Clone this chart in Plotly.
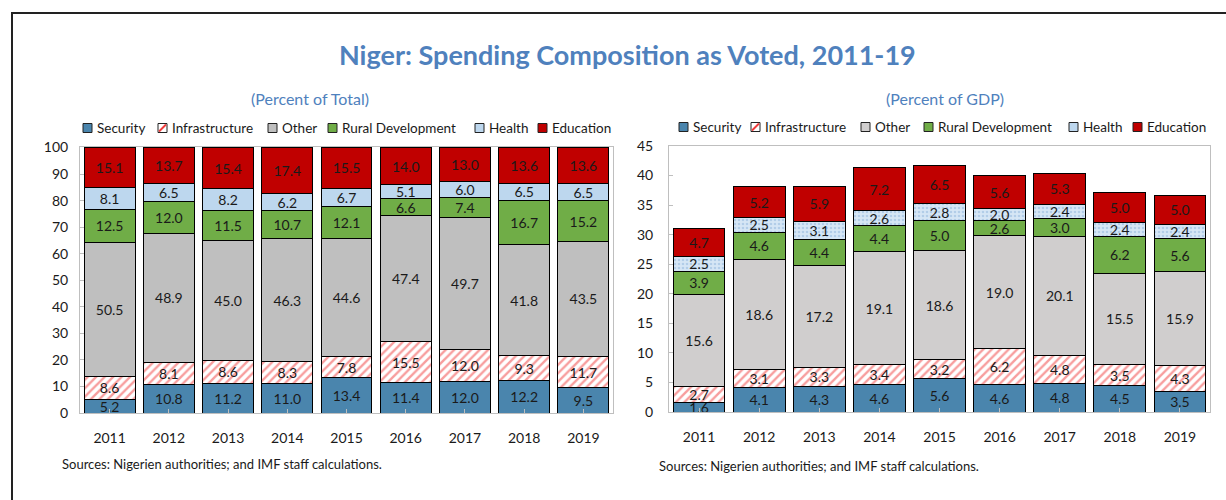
import plotly.graph_objects as go

years = ["2011", "2012", "2013", "2014", "2015", "2016", "2017", "2018", "2019"]
series_names = ["Security", "Infrastructure", "Other", "Rural Development", "Health", "Education"]

# Percent of total
tot_security = [5.2, 10.8, 11.2, 11.0, 13.4, 11.4, 12.0, 12.2, 9.5]
tot_infra = [8.6, 8.1, 8.6, 8.3, 7.8, 15.5, 12.0, 9.3, 11.7]
tot_other = [50.5, 48.9, 45.0, 46.3, 44.6, 47.4, 49.7, 41.8, 43.5]
tot_rural = [12.5, 12.0, 11.5, 10.7, 12.1, 6.6, 7.4, 16.7, 15.2]
tot_health = [8.1, 6.5, 8.2, 6.2, 6.7, 5.1, 6.0, 6.5, 6.5]
tot_education = [15.1, 13.7, 15.4, 17.4, 15.5, 14.0, 13.0, 13.6, 13.6]

# Percent of GDP
gdp_security = [1.6, 4.1, 4.3, 4.6, 5.6, 4.6, 4.8, 4.5, 3.5]
gdp_infra = [2.7, 3.1, 3.3, 3.4, 3.2, 6.2, 4.8, 3.5, 4.3]
gdp_other = [15.6, 18.6, 17.2, 19.1, 18.6, 19.0, 20.1, 15.5, 15.9]
gdp_rural = [3.9, 4.6, 4.4, 4.4, 5.0, 2.6, 3.0, 6.2, 5.6]
gdp_health = [2.5, 2.5, 3.1, 2.6, 2.8, 2.0, 2.4, 2.4, 2.4]
gdp_education = [4.7, 5.2, 5.9, 7.2, 6.5, 5.6, 5.3, 5.0, 5.0]

tot_ticks = list(range(0, 101, 10))
gdp_ticks = list(range(0, 46, 5))

W, H = 1226, 500
FONT = "Lato"
TXT = "#1a1a1a"
BLUE_T = "#4F81BD"
SEC_C, INF_C, RUR_C, HEA_C, EDU_C = "#4A85AD", "#F03C3C", "#70AD47", "#BDD7EE", "#C00000"

def px_x(p):
    return p / W

def px_y(p):
    return 1 - p / H

def styles(panel):
    other = "#BFBFBF" if panel == 1 else "#D0CECE"
    health = dict(color=HEA_C)
    if panel == 2:
        health = dict(color=HEA_C, pattern=dict(shape=".", fgcolor="#8DB4DC", bgcolor="#D6E6F5",
                                                  size=4, solidity=0.35))
    return [
        dict(color=SEC_C),
        dict(color="white", pattern=dict(shape="/", fgcolor=INF_C, bgcolor="white", size=6, solidity=0.4)),
        dict(color=other),
        dict(color=RUR_C),
        health,
        dict(color=EDU_C),
    ]

fig = go.Figure()

panels = [
    (1, [tot_security, tot_infra, tot_other, tot_rural, tot_health, tot_education], "x", "y"),
    (2, [gdp_security, gdp_infra, gdp_other, gdp_rural, gdp_health, gdp_education], "x2", "y2"),
]

for panel, data, xa, ya in panels:
    st = styles(panel)
    for name, vals, s in zip(series_names, data, st):
        marker = dict(line=dict(color="black", width=1))
        marker.update(s)
        fig.add_trace(go.Bar(
            x=years, y=vals, name=name, xaxis=xa, yaxis=ya, showlegend=False,
            marker=marker,
            texttemplate="%{y:.1f}", textposition="inside", insidetextanchor="middle",
            insidetextfont=dict(family=FONT, size=14, color=TXT),
            constraintext="none", cliponaxis=False,
            hoverinfo="skip",
        ))

axis_common = dict(
    showline=True, linecolor="#BFBFBF", linewidth=1, mirror=True,
    showgrid=False, zeroline=False, automargin=False,
    ticks="inside", ticklen=4, tickcolor="#BFBFBF",
    tickfont=dict(family=FONT, size=14, color=TXT),
)

fig.update_layout(
    width=W, height=H, autosize=False,
    margin=dict(l=0, r=0, t=0, b=0),
    paper_bgcolor="white", plot_bgcolor="white",
    barmode="stack", bargap=0.14,
    uniformtext=dict(minsize=14, mode="show"),
    font=dict(family=FONT, color=TXT),
    showlegend=False,
    xaxis=dict(domain=[px_x(80), px_x(613)], anchor="y", ticklabelstandoff=12, **axis_common),
    yaxis=dict(domain=[px_y(413), px_y(147)], anchor="x", range=[0, 100.2],
               tickvals=tot_ticks, ticklabelstandoff=8, **axis_common),
    xaxis2=dict(domain=[px_x(669), px_x(1210)], anchor="y2", ticklabelstandoff=12, **axis_common),
    yaxis2=dict(domain=[px_y(412), px_y(146)], anchor="x2", range=[0, 45],
                tickvals=gdp_ticks, ticklabelstandoff=12, **axis_common),
)

annotations = [
    dict(text="<b>Niger: Spending Composition as Voted, 2011-19</b>", x=px_x(627), y=px_y(55),
         font=dict(family=FONT, size=27, color=BLUE_T)),
    dict(text="(Percent of Total)", x=px_x(310), y=px_y(99),
         font=dict(family=FONT, size=16, color=BLUE_T)),
    dict(text="(Percent of GDP)", x=px_x(945), y=px_y(99),
         font=dict(family=FONT, size=16, color=BLUE_T)),
    dict(text="Sources: Nigerien authorities; and IMF staff calculations.", x=px_x(60), y=px_y(464),
         xanchor="left", font=dict(family=FONT, size=13, color=TXT)),
    dict(text="Sources: Nigerien authorities; and IMF staff calculations.", x=px_x(657), y=px_y(466),
         xanchor="left", font=dict(family=FONT, size=13, color=TXT)),
]

# Legend rows (custom, so the swatches sit right beside their labels as in the reference)
legend_rows = [
    (128, [83, 158, 268, 328, 475, 538], ["#BFBFBF", HEA_C]),
    (127, [679, 751, 861, 924, 1069, 1133], ["#D0CECE", HEA_C]),
]
shapes = []
for yc, xs, (other_c, health_c) in legend_rows:
    fills = [SEC_C, "white", other_c, RUR_C, health_c, EDU_C]
    for name, x0, fc in zip(series_names, xs, fills):
        shapes.append(dict(type="rect", xref="paper", yref="paper",
                           x0=px_x(x0), x1=px_x(x0 + 9), y0=px_y(yc + 4.5), y1=px_y(yc - 4.5),
                           fillcolor=fc, line=dict(color="#222222", width=1)))
        if name == "Infrastructure":
            shapes.append(dict(type="line", xref="paper", yref="paper",
                               x0=px_x(x0 + 1), x1=px_x(x0 + 8), y0=px_y(yc + 3.5), y1=px_y(yc - 3.5),
                               line=dict(color=INF_C, width=2)))
        annotations.append(dict(text=name, x=px_x(x0 + 12), y=px_y(yc), xanchor="left",
                                font=dict(family=FONT, size=13.5, color=TXT)))

for a in annotations:
    a.setdefault("xanchor", "center")
    a.update(xref="paper", yref="paper", yanchor="middle", showarrow=False)

shapes.append(dict(type="rect", xref="paper", yref="paper",
                   x0=px_x(12), x1=1.05, y0=-0.1, y1=px_y(13),
                   line=dict(color="#222222", width=2), fillcolor="rgba(0,0,0,0)", layer="above"))

fig.update_layout(annotations=annotations, shapes=shapes)

fig.write_html("out.html", config={"displayModeBar": False},
               post_script="document.body.style.margin='0';document.body.style.overflow='hidden';")
